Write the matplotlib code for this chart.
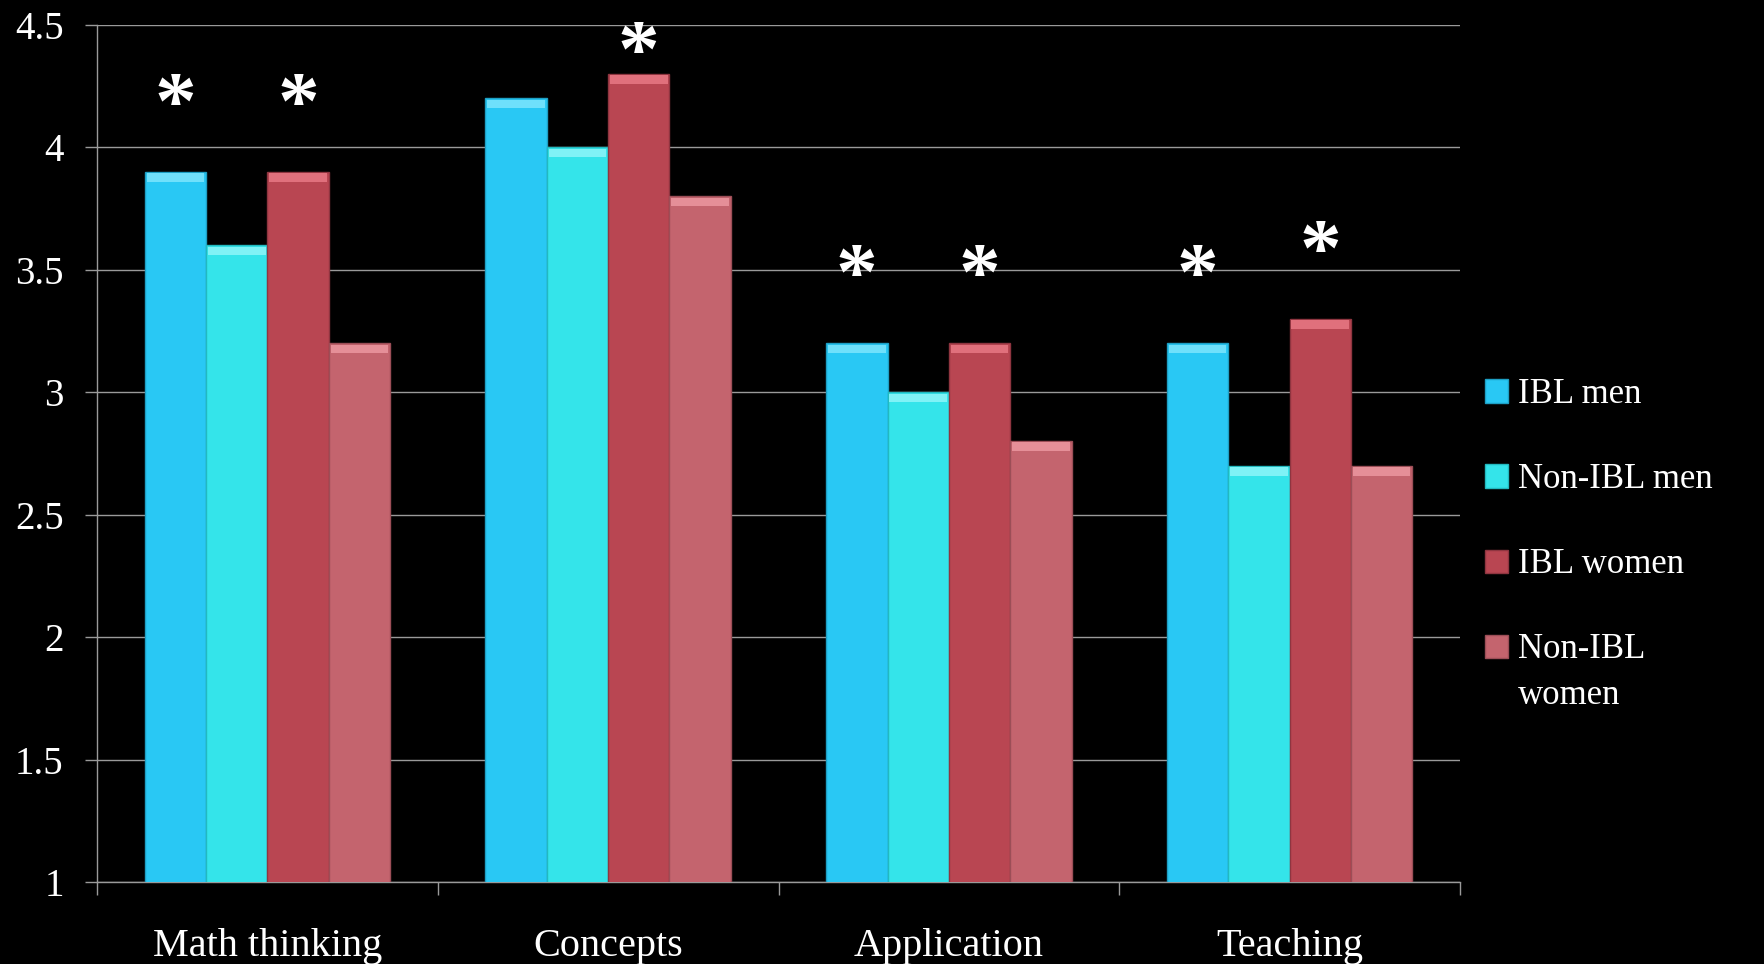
import matplotlib
matplotlib.use('Agg')
import matplotlib.pyplot as plt
from matplotlib.patches import Rectangle
from matplotlib.legend_handler import HandlerPatch, update_from_first_child
import numpy as np

categories = ['Math thinking', 'Concepts', 'Application', 'Teaching']
series_names = ['IBL men', 'Non-IBL men', 'IBL women', 'Non-IBL\nwomen']
ibl_men = [3.9, 4.2, 3.2, 3.2]
non_ibl_men = [3.6, 4.0, 3.0, 2.7]
ibl_women = [3.9, 4.3, 3.2, 3.3]
non_ibl_women = [3.2, 3.8, 2.8, 2.7]
# significance stars above IBL bars
star_ibl_men = [True, False, True, True]
star_ibl_women = [True, True, True, True]

colors = ['#29c8f4', '#34e4ea', '#b94652', '#c4646e']
tops = ['#6fe0fb', '#7ff2f6', '#e0707c', '#e58f98']
edges = ['#1d9fc4', '#22b9bf', '#8f3540', '#9c4e57']

plt.rcParams['font.family'] = ['Liberation Serif', 'DejaVu Serif']

fig = plt.figure(figsize=(17.64, 9.64), dpi=100, facecolor='black')
ax = fig.add_axes([97 / 1764, 1 - 882 / 964, (1460 - 97) / 1764, (882 - 25) / 964])
ax.set_facecolor('black')

ymax = 4.5
x = np.arange(len(categories))
width = 0.18
data = [ibl_men, non_ibl_men, ibl_women, non_ibl_women]
bars = []
for i, vals in enumerate(data):
    pos = x + (i - 1.5) * width
    vals = np.array(vals)
    b = ax.bar(pos, vals, width, color=colors[i], edgecolor=edges[i], linewidth=1,
               label=series_names[i], zorder=3)
    # lighter bevel strip along the top
    ax.bar(pos, 0.035, width * 0.94, bottom=vals - 0.04, color=tops[i], linewidth=0, zorder=4)
    bars.append(b)


def star(xpos, val):
    # star sits above the bar, squeezed down if it would leave the plot
    y = min(val + 0.26, ymax - 0.13)
    ax.text(xpos, y, '*', color='white', fontsize=60, ha='center', va='center',
            fontweight='bold', clip_on=False)


for j in range(len(categories)):
    if star_ibl_men[j]:
        star(x[j] - 1.5 * width, ibl_men[j])
    if star_ibl_women[j]:
        star(x[j] + 0.5 * width, ibl_women[j])

ax.set_ylim(1, ymax)
ax.set_xlim(-0.5, len(categories) - 0.5)
ax.set_yticks([1, 1.5, 2, 2.5, 3, 3.5, 4, 4.5])
ax.set_yticklabels(['1', '1.5', '2', '2.5', '3', '3.5', '4', '4.5'])
ax.yaxis.grid(True, color='#9a9a9a', linewidth=1, zorder=0)
ax.set_axisbelow(True)

ax.set_xticks(np.arange(len(categories) + 1) - 0.5)
ax.set_xticklabels([])
ax.set_xticks(x, minor=True)
ax.set_xticklabels(categories, minor=True)
ax.tick_params(axis='x', which='minor', length=0, pad=33, labelsize=29, colors='white')
ax.tick_params(axis='x', which='major', length=9, width=1, color='#9a9a9a', direction='out')
ax.tick_params(axis='y', length=9, width=1, color='#9a9a9a', pad=15, labelsize=28, labelcolor='white')

for s in ['top', 'right']:
    ax.spines[s].set_visible(False)
for s in ['left', 'bottom']:
    ax.spines[s].set_color('#9a9a9a')
    ax.spines[s].set_linewidth(1)


def raised_patch(legend, orig_handle, xdescent, ydescent, width, height, fontsize):
    # put the swatch next to the first line of a two-line label
    return Rectangle((-xdescent, -ydescent + 0.75 * fontsize), width, height)


leg = ax.legend(loc='center left', bbox_to_anchor=(1485 / 1764, 1 - 545 / 964),
                bbox_transform=fig.transFigure, frameon=False, fontsize=25,
                handlelength=0.65, handleheight=0.65, handletextpad=0.3,
                labelspacing=1.5, borderpad=0, borderaxespad=0,
                handler_map={bars[3]: HandlerPatch(patch_func=raised_patch,
                                                   update_func=update_from_first_child)})
for t in leg.get_texts():
    t.set_color('white')
    t.set_linespacing(1.5)

fig.savefig('out.png', dpi=100, facecolor='black')
